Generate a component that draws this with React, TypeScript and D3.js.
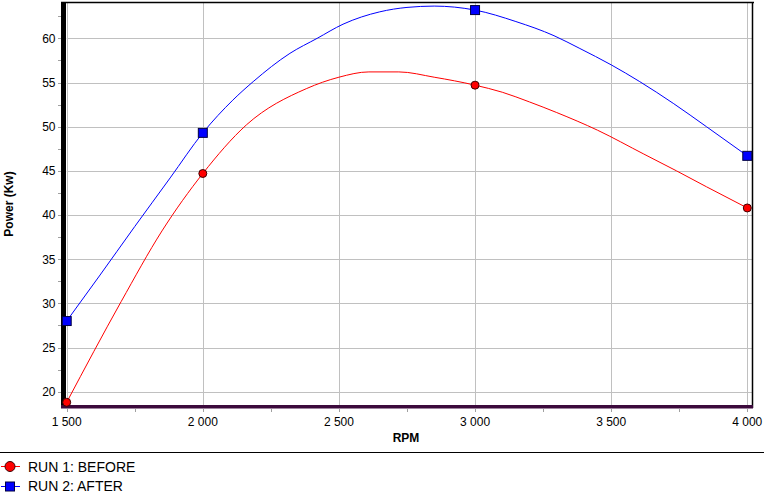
import React from "react";
import * as d3 from "d3";

const markerRpm = [1500, 2000, 3000, 4000];
const beforeValues = [18.8, 44.7, 54.7, 40.8];
const afterValues = [28.0, 49.3, 63.2, 46.7];

const beforeCurveRpm = [1500, 1700, 1850, 2000, 2160, 2380, 2500, 2610, 2720, 2850, 3000, 3100, 3200, 3300, 3450, 3620, 3740, 3850, 4000];
const beforeCurveVal = [18.8, 30.2, 38.2, 44.7, 50.2, 54.3, 55.6, 56.2, 56.2, 55.6, 54.7, 53.9, 52.8, 51.6, 49.6, 46.9, 45.0, 43.2, 40.8];

const afterCurveRpm = [1500, 1620, 1750, 1880, 2000, 2110, 2185, 2320, 2420, 2515, 2650, 2750, 2850, 3000, 3150, 3290, 3385, 3500, 3605, 3730, 3850, 4000];
const afterCurveVal = [28.0, 33.1, 38.7, 44.2, 49.3, 53.0, 55.1, 58.3, 60.0, 61.6, 63.0, 63.5, 63.65, 63.2, 61.9, 60.3, 58.85, 57.0, 55.1, 52.6, 50.0, 46.7];

const yTicks = [20, 25, 30, 35, 40, 45, 50, 55, 60];
const yMinorTicks = [20, 22.5, 25, 27.5, 30, 32.5, 35, 37.5, 40, 42.5, 45, 47.5, 50, 52.5, 55, 57.5, 60, 62.5];
const xTicks = [1500, 2000, 2500, 3000, 3500, 4000];
const xMinorTicks = [1750, 2250, 2750, 3250, 3750];

const seriesNames = ["RUN 1: BEFORE", "RUN 2: AFTER"];

const W = 764;
const H = 496;
const FONT = "Arial, 'Liberation Sans', sans-serif";

export default function App() {
  const x = d3.scaleLinear().domain([1500, 4021]).range([66.7, 753]);
  const y = d3.scaleLinear().domain([18.27, 64.0]).range([407, 3]);
  const fmt = d3.formatLocale({ decimal: ".", thousands: " ", grouping: [3], currency: ["", ""] }).format(",");

  const line = d3
    .line<[number, number]>()
    .x((d) => x(d[0]))
    .y((d) => y(d[1]))
    .curve(d3.curveMonotoneX);

  const beforePts: [number, number][] = beforeCurveRpm.map((r, i) => [r, beforeCurveVal[i]]);
  const afterPts: [number, number][] = afterCurveRpm.map((r, i) => [r, afterCurveVal[i]]);

  const left = 66.7;
  const right = 753;
  const top = 3;
  const bottom = 407;

  return (
    <svg width={W} height={H} style={{ position: "absolute", left: 0, top: 0, background: "#fff" }} fontFamily={FONT}>
      <rect x={0} y={0} width={W} height={H} fill="#fff" />
      {/* grid */}
      {yTicks.map((t) => (
        <line key={"gy" + t} x1={left} x2={right} y1={Math.round(y(t)) + 0.5} y2={Math.round(y(t)) + 0.5} stroke="#c0c0c0" strokeWidth={1} />
      ))}
      {xTicks.map((t) => (
        <line key={"gx" + t} x1={Math.round(x(t)) + 0.5} x2={Math.round(x(t)) + 0.5} y1={top} y2={bottom} stroke="#c0c0c0" strokeWidth={1} />
      ))}
      {/* y ticks */}
      {yMinorTicks.map((t) => (
        <line key={"ym" + t} x1={58} x2={61} y1={Math.round(y(t)) + 0.5} y2={Math.round(y(t)) + 0.5} stroke="#a0a0a0" strokeWidth={1} />
      ))}
      {yTicks.map((t) => (
        <text key={"yl" + t} x={55.5} y={y(t)} dy="0.36em" textAnchor="end" fontSize={12} fill="#000">
          {t}
        </text>
      ))}
      {/* x ticks */}
      {xTicks.concat(xMinorTicks).map((t) => (
        <line key={"xt" + t} x1={Math.round(x(t)) + 0.5} x2={Math.round(x(t)) + 0.5} y1={409} y2={412} stroke="#a0a0a0" strokeWidth={1} />
      ))}
      {xTicks.map((t) => (
        <text key={"xl" + t} x={x(t)} y={426} textAnchor="middle" fontSize={12} fill="#000">
          {fmt(t)}
        </text>
      ))}
      {/* borders */}
      <line x1={61} x2={754} y1={2.5} y2={2.5} stroke="#000" strokeWidth={1.5} />
      <line x1={752.5} x2={752.5} y1={2} y2={408} stroke="#000" strokeWidth={1.5} />
      <rect x={61} y={2} width={5} height={406} fill="#000" />
      <rect x={61} y={405} width={692} height={3.5} fill="#3c0a3c" />
      {/* series lines */}
      <path d={line(beforePts) || ""} fill="none" stroke="#ff0000" strokeWidth={1} />
      <path d={line(afterPts) || ""} fill="none" stroke="#0000ff" strokeWidth={1} />
      {/* markers */}
      {markerRpm.map((r, i) => (
        <circle key={"bm" + r} cx={x(r)} cy={y(beforeValues[i])} r={4} fill="#ff0000" stroke="#400000" strokeWidth={1} />
      ))}
      {markerRpm.map((r, i) => (
        <rect key={"am" + r} x={x(r) - 4.5} y={y(afterValues[i]) - 4.5} width={9} height={9} fill="#0000ff" stroke="#000040" strokeWidth={1} />
      ))}
      {/* axis titles */}
      <text x={406} y={442} textAnchor="middle" fontSize={12} fontWeight="bold" fill="#000">
        RPM
      </text>
      <text transform="translate(13,204) rotate(-90)" textAnchor="middle" fontSize={12} fontWeight="bold" fill="#000">
        Power (Kw)
      </text>
      {/* legend */}
      <line x1={0} x2={W} y1={452.5} y2={452.5} stroke="#000" strokeWidth={1} />
      <line x1={1} x2={20} y1={466.5} y2={466.5} stroke="#ff0000" strokeWidth={1} />
      <circle cx={10} cy={466.5} r={5} fill="#ff0000" stroke="#400000" strokeWidth={1} />
      <text x={28} y={472} fontSize={14} fill="#000">
        {seriesNames[0]}
      </text>
      <line x1={1} x2={20} y1={486.5} y2={486.5} stroke="#0000ff" strokeWidth={1} />
      <rect x={5.5} y={482} width={9} height={9} fill="#0000ff" stroke="#000040" strokeWidth={1} />
      <text x={28} y={491} fontSize={14} fill="#000">
        {seriesNames[1]}
      </text>
    </svg>
  );
}
